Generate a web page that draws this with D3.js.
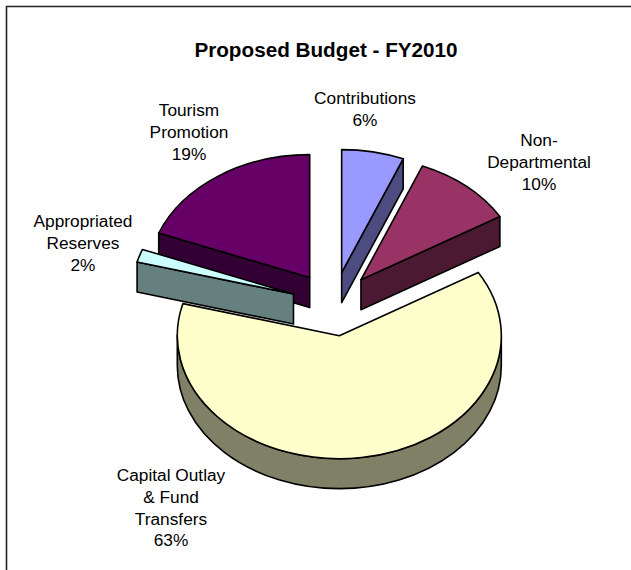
<!DOCTYPE html>
<meta charset="utf-8">
<script src="https://d3js.org/d3.v7.min.js"></script>
<style>
  body { margin: 0; background: #fff; }
  svg { display: block; }
  text { font-family: "Liberation Sans", Arial, sans-serif; fill: #000; }
</style>
<div id="chart"></div>
<script>
// data, in pie order (clockwise from 12 o'clock)
// shares, the labels show them rounded
var categories = ["Contributions", "Non-Departmental", "Capital Outlay & Fund Transfers", "Appropriated Reserves", "Tourism Promotion"];
var shares = [6.2, 10.2, 62.8, 1.7, 19.1];
var labelLines = [["Contributions", "6%"], ["Non-", "Departmental", "10%"], ["Capital Outlay", "& Fund", "Transfers", "63%"], ["Appropriated", "Reserves", "2%"], ["Tourism", "Promotion", "19%"]];
var topColors = ["#9999ff", "#993366", "#ffffcc", "#ccffff", "#660066"];
var sideColors = ["#4c4c80", "#4c1933", "#808066", "#668080", "#330033"];

var width = 631, height = 570;
var cx = 333.5, cy = 304, rx = 162, ry = 123, depth = 30, explode = 0.26;
// label centres, by hand as the original chart has them
var labelPos = [[365, 104], [539, 146], [171, 481], [83, 227], [189, 116]];
var lineHeight = 21.8;

var svg = d3.select("#chart").append("svg").attr("width", width).attr("height", height);

// frame: only the top and left edges fall inside the picture
svg.append("path").attr("d", "M6.5,570V6.5H631")
  .attr("fill", "none").attr("stroke", "#222").attr("stroke-width", 1.6);

svg.append("text").attr("x", 326).attr("y", 57).attr("text-anchor", "middle")
  .style("font-size", "20.7px").style("font-weight", "bold").text("Proposed Budget - FY2010");

// the unit circle squashed to the tilted ellipse
var sx = d3.scaleLinear().domain([-1, 1]).range([-rx, rx]);
var sy = d3.scaleLinear().domain([-1, 1]).range([-ry, ry]);
var pie = d3.pie().sort(null).value(function(d) { return d; });
var arcs = pie(shares);

function px(a) { return sx(Math.sin(a)); }
function py(a) { return sy(-Math.cos(a)); }

// top face of one slice
function topPath(d) {
  var large = d.endAngle - d.startAngle > Math.PI ? 1 : 0;
  return "M0,0L" + px(d.startAngle) + "," + py(d.startAngle) +
    "A" + rx + "," + ry + " 0 " + large + " 1 " + px(d.endAngle) + "," + py(d.endAngle) + "Z";
}
// flat wall below a radial edge
function radialWall(a) {
  return "M0,0L" + px(a) + "," + py(a) + "L" + px(a) + "," + (py(a) + depth) + "L0," + depth + "Z";
}
// curved wall on the front half of the rim
function rimWall(d) {
  var a0 = Math.max(d.startAngle, Math.PI / 2), a1 = Math.min(d.endAngle, 3 * Math.PI / 2);
  if (a1 <= a0) return null;
  var large = a1 - a0 > Math.PI ? 1 : 0;
  return "M" + px(a0) + "," + py(a0) +
    "A" + rx + "," + ry + " 0 " + large + " 1 " + px(a1) + "," + py(a1) +
    "L" + px(a1) + "," + (py(a1) + depth) +
    "A" + rx + "," + ry + " 0 " + large + " 0 " + px(a0) + "," + (py(a0) + depth) + "Z";
}

// back to front so the exploded slices overlap like the original
var drawOrder = [2, 4, 0, 1, 3];
drawOrder.forEach(function(i) {
  var d = arcs[i];
  var mid = (d.startAngle + d.endAngle) / 2;
  var g = svg.append("g")
    .attr("class", "slice")
    .attr("transform", "translate(" + (cx + explode * px(mid)) + "," + (cy + explode * py(mid)) + ")")
    .attr("stroke", "#000").attr("stroke-width", 1.6).attr("stroke-linejoin", "round");

  // the radial edge that faces the viewer gets a wall
  var walls = [];
  if (d.endAngle < Math.PI) walls.push(radialWall(d.endAngle));
  if (d.startAngle > Math.PI) walls.push(radialWall(d.startAngle));
  var rim = rimWall(d);
  if (rim) walls.push(rim);
  walls.forEach(function(w) { g.append("path").attr("d", w).attr("fill", sideColors[i]); });

  g.append("path").attr("d", topPath(d)).attr("fill", topColors[i]);
});

// labels
labelLines.forEach(function(lines, i) {
  var t = svg.append("text").attr("text-anchor", "middle").style("font-size", "17.3px");
  lines.forEach(function(line, j) {
    t.append("tspan").attr("x", labelPos[i][0]).attr("y", labelPos[i][1] + j * lineHeight).text(line);
  });
});
</script>
